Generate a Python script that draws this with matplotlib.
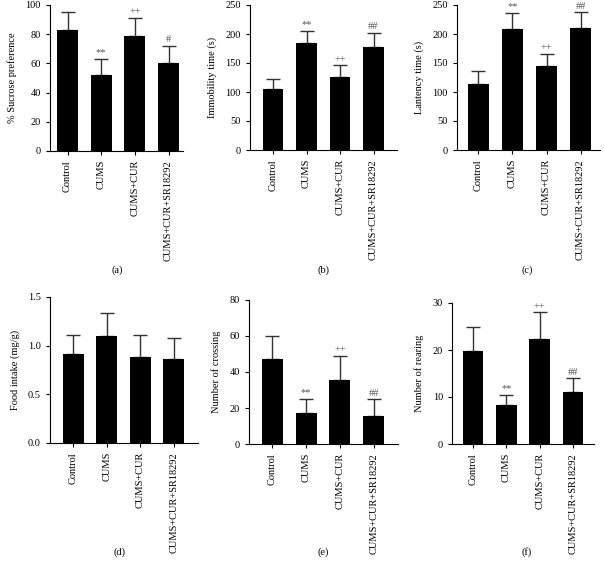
import matplotlib
matplotlib.use("Agg")
import matplotlib.pyplot as plt
import numpy as np

plt.rcParams['font.family'] = ['Liberation Serif', 'DejaVu Serif']

groups = ["Control", "CUMS", "CUMS+CUR", "CUMS+CUR+SR18292"]

sucrose_mean = [83, 52, 78.5, 60.5]
sucrose_err = [12, 11, 12.5, 11.5]
sucrose_sig = ["", "**", "++", "#"]

immob_mean = [105, 184, 126, 178]
immob_err = [17, 22, 20, 24]
immob_sig = ["", "**", "++", "##"]

latency_mean = [114, 208, 145, 211]
latency_err = [23, 29, 21, 27]
latency_sig = ["", "**", "++", "##"]

food_mean = [0.91, 1.10, 0.88, 0.86]
food_err = [0.20, 0.24, 0.23, 0.22]
food_sig = ["", "", "", ""]

cross_mean = [47.5, 17.5, 35.5, 15.5]
cross_err = [12.5, 7.5, 13.5, 9.5]
cross_sig = ["", "**", "++", "##"]

rear_mean = [19.7, 8.4, 22.4, 11.1]
rear_err = [5.3, 2.1, 5.6, 2.9]
rear_sig = ["", "**", "++", "##"]

W, H = 604, 577
fig = plt.figure(figsize=(W / 100, H / 100), dpi=100)

panels = [
    ((50, 183, 5, 151), (-0.52, 3.43), (0, 100), [0, 20, 40, 60, 80, 100], "% Sucrose preference",
     sucrose_mean, sucrose_err, sucrose_sig, "(a)", (117, 270), "{:.0f}"),
    ((250, 397, 5, 150), (-0.69, 3.70), (0, 250), [0, 50, 100, 150, 200, 250], "Immobility time (s)",
     immob_mean, immob_err, immob_sig, "(b)", (323, 270), "{:.0f}"),
    ((457, 600, 5, 150), (-0.63, 3.57), (0, 250), [0, 50, 100, 150, 200, 250], "Lantency time (s)",
     latency_mean, latency_err, latency_sig, "(c)", (527, 270), "{:.0f}"),
    ((50, 198, 297, 443), (-0.69, 3.72), (0, 1.5), [0.0, 0.5, 1.0, 1.5], "Food intake (mg/g)",
     food_mean, food_err, food_sig, "(d)", (120, 552), "{:.1f}"),
    ((249, 398, 300, 444), (-0.69, 3.72), (0, 80), [0, 20, 40, 60, 80], "Number of crossing",
     cross_mean, cross_err, cross_sig, "(e)", (323, 552), "{:.0f}"),
    ((452, 594, 303, 444), (-0.63, 3.63), (0, 30), [0, 10, 20, 30], "Number of rearing",
     rear_mean, rear_err, rear_sig, "(f)", (527, 552), "{:.0f}"),
]

fs = 7.5
for (l, r, t, b), xl, yl, yt, ylab, mean, err, sig, lab, lpos, fmt in panels:
    ax = fig.add_axes([l / W, 1 - b / H, (r - l) / W, (b - t) / H])
    x = np.arange(len(groups))
    ax.bar(x, mean, width=0.62, color="black", zorder=2)
    ax.errorbar(x, mean, yerr=[np.zeros(len(mean)), err], fmt="none", ecolor="#333333",
                elinewidth=1.0, capsize=5, capthick=1.0, zorder=1)
    for xi, m, e, s in zip(x, mean, err, sig):
        if s:
            ax.text(xi, m + e + (yl[1] - yl[0]) * 0.01, s, ha="center", va="bottom",
                    fontsize=7.5, color="#555555")
    ax.set_xlim(*xl)
    ax.set_ylim(*yl)
    ax.set_yticks(yt)
    ax.set_yticklabels([fmt.format(v) for v in yt])
    ax.set_xticks(x)
    ax.set_xticklabels(groups, rotation=90, fontsize=fs)
    ax.tick_params(axis="y", labelsize=fs, length=3, width=0.8)
    ax.tick_params(axis="x", length=3, width=0.8)
    ax.set_ylabel(ylab, fontsize=fs, labelpad=6)
    for sp in ("top", "right"):
        ax.spines[sp].set_visible(False)
    for sp in ("left", "bottom"):
        ax.spines[sp].set_linewidth(0.8)
    fig.text(lpos[0] / W, 1 - lpos[1] / H, lab, ha="center", va="center", fontsize=fs)

fig.savefig("out.png", dpi=100)
